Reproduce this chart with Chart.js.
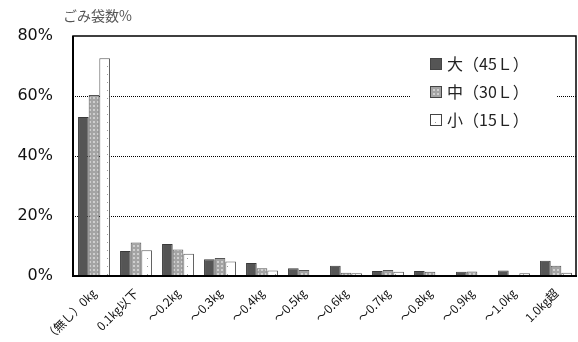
<!DOCTYPE html>
<html lang="ja">
<head>
<meta charset="UTF-8">
<title>ごみ袋数%</title>
<style>
  body { margin: 0; background: #fff; }
  #wrap { width: 578px; height: 342px; }
</style>
</head>
<body>
<div id="wrap"><canvas id="chart" width="578" height="342"></canvas></div>
<script src="https://cdn.jsdelivr.net/npm/chart.js"></script>
<script>
// data
const categories = ['（無し）0㎏', '0.1㎏以下', '～0.2㎏', '～0.3㎏', '～0.4㎏', '～0.5㎏',
                    '～0.6㎏', '～0.7㎏', '～0.8㎏', '～0.9㎏', '～1.0㎏', '1.0㎏超'];
const seriesNames = ['大（45Ｌ）', '中（30Ｌ）', '小（15Ｌ）'];
const large  = [53.0, 8.3, 10.7, 5.6, 4.3, 2.6, 3.4, 1.7, 1.7, 1.4, 1.8, 5.1];
const medium = [60.3, 11.2, 8.8, 6.0, 2.6, 2.0, 1.1, 2.0, 1.4, 1.5, 0.0, 3.4];
const small  = [72.6, 8.6, 7.4, 4.8, 1.8, 0.3, 0.9, 1.4, 0.2, 0.2, 0.9, 1.1];
const yTicks = [0, 20, 40, 60, 80];

const FONT_JP = '"Noto Sans CJK JP", sans-serif';

function makePattern(bg, fg, size, draw) {
    const c = document.createElement('canvas');
    c.width = size; c.height = size;
    const g = c.getContext('2d');
    g.fillStyle = bg;
    g.fillRect(0, 0, size, size);
    g.fillStyle = fg;
    draw(g);
    return document.getElementById('chart').getContext('2d').createPattern(c, 'repeat');
}

const darkFill = '#555555';
const midFill = makePattern('#a4a4a4', '#cfcfcf', 4, g => {
    g.fillRect(1, 1, 2, 2);
});
const lightFill = makePattern('#ffffff', '#9a9a9a', 8, g => {
    g.fillRect(3, 2, 1, 1);
});

// white box with legend drawn inside the plot area, plus the solid frame
const framePlugin = {
    id: 'frame',
    afterDatasetsDraw(chart) {
        const a = chart.chartArea;
        const ctx = chart.ctx;
        ctx.save();
        ctx.strokeStyle = '#000';
        ctx.lineWidth = 1.5;
        ctx.strokeRect(a.left, a.top, a.right - a.left - 1, a.bottom - a.top);
        ctx.lineWidth = 2;
        ctx.beginPath();
        ctx.moveTo(a.left, a.top);
        ctx.lineTo(a.left, a.bottom);
        ctx.lineTo(a.right, a.bottom);
        ctx.stroke();
        ctx.restore();
    },
    afterDraw(chart) {
        const a = chart.chartArea;
        const ctx = chart.ctx;
        ctx.save();
        // axis title
        ctx.fillStyle = '#555';
        ctx.font = '14px ' + FONT_JP;
        ctx.textBaseline = 'middle';
        ctx.textAlign = 'left';
        ctx.fillText('ごみ袋数%', a.left - 10, 16);
        // legend
        const lx = a.left + 338, ly = a.top + 10;
        ctx.fillStyle = '#fff';
        ctx.fillRect(lx, ly, 146, 90);
        chart.data.datasets.forEach((ds, i) => {
            const y = ly + 18 + i * 28;
            ctx.fillStyle = ds.backgroundColor;
            ctx.fillRect(lx + 19, y - 6, 12, 12);
            ctx.strokeStyle = '#444';
            ctx.lineWidth = 1;
            ctx.strokeRect(lx + 19.5, y - 5.5, 11, 11);
            ctx.fillStyle = '#222';
            ctx.font = '16px ' + FONT_JP;
            ctx.fillText(ds.label, lx + 36, y);
        });
        ctx.restore();
    }
};

new Chart(document.getElementById('chart'), {
    type: 'bar',
    data: {
        labels: categories,
        datasets: [
            { label: seriesNames[0], data: large,  backgroundColor: darkFill,  borderColor: '#3a3a3a', borderWidth: 1 },
            { label: seriesNames[1], data: medium, backgroundColor: midFill,   borderColor: '#555', borderWidth: 1 },
            { label: seriesNames[2], data: small,  backgroundColor: lightFill, borderColor: '#555', borderWidth: 1 }
        ]
    },
    options: {
        responsive: false,
        animation: false,
        layout: { padding: { top: 36, right: 1, left: 0, bottom: 0 } },
        datasets: { bar: { categoryPercentage: 0.76, barPercentage: 1.0 } },
        plugins: {
            legend: { display: false },
            tooltip: { enabled: false }
        },
        scales: {
            x: {
                grid: { display: false },
                border: { display: false },
                ticks: {
                    autoSkip: false,
                    minRotation: 45,
                    maxRotation: 45,
                    padding: 2,
                    color: '#111',
                    font: { family: FONT_JP, size: 12 }
                },
                afterFit(s) { s.height = 66; }
            },
            y: {
                min: 0,
                max: 80,
                afterBuildTicks(s) { s.ticks = yTicks.map(v => ({ value: v })); },
                grid: {
                    drawTicks: false,
                    color: c => (c.tick && (c.tick.value === 0 || c.tick.value === 80)) ? 'rgba(0,0,0,0)' : '#000',
                    lineWidth: 1
                },
                border: { display: false, dash: [1, 1] },
                ticks: {
                    padding: 20,
                    color: '#111',
                    font: { family: '"DejaVu Sans", sans-serif', size: 16 },
                    callback: v => v + '%'
                },
                afterFit(s) { s.width = 73; }
            }
        }
    },
    plugins: [framePlugin]
});
</script>
</body>
</html>
